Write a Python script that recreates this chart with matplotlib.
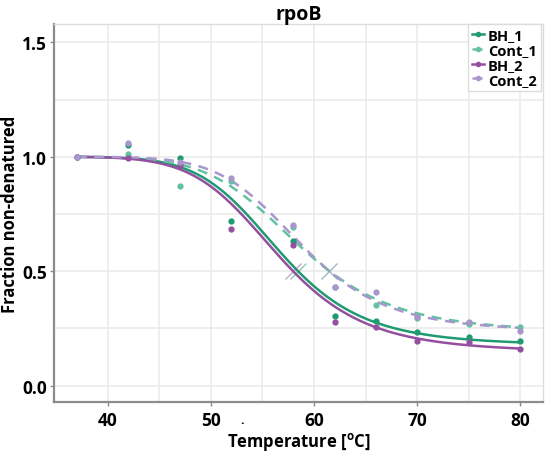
import numpy as np
from matplotlib import pyplot as plt
from matplotlib.lines import Line2D

plt.rcParams['font.family'] = ['Open Sans', 'DejaVu Sans']
plt.rcParams['font.weight'] = 'bold'

# measured temperatures
temps = [37, 42, 47, 52, 58, 62, 66, 70, 75, 80]

# fraction non-denatured
bh_1 = [1.0, 1.052, 0.996, 0.720, 0.632, 0.305, 0.283, 0.235, 0.212, 0.193]
cont_1 = [1.0, 1.011, 0.873, 0.894, 0.692, 0.430, 0.353, 0.295, 0.270, 0.254]
bh_2 = [1.0, 0.995, 0.964, 0.683, 0.613, 0.276, 0.254, 0.193, 0.190, 0.159]
cont_2 = [1.0, 1.062, 0.977, 0.905, 0.701, 0.429, 0.411, 0.298, 0.279, 0.239]

# melting curve fit: Tm, slope a, plateau
fit_tm = [58.45, 61.5, 57.97, 61.5]
fit_a = [790, 740, 750, 830]
fit_plateau = [0.175, 0.23, 0.145, 0.235]

names = ['BH_1', 'Cont_1', 'BH_2', 'Cont_2']
colors = ['#1f9a72', '#62c2a2', '#94509f', '#a996cc']
styles = ['-', (0, (4, 3)), '-', (0, (4, 3))]
series = [bh_1, cont_1, bh_2, cont_2]


def melt(t, tm, a, p):
	f = (0.5 - p) / (1 - p)
	b = a / tm - np.log(f / (1 - f))
	return (1 - p) / (1 + np.exp(-(a / t - b))) + p


fig = plt.figure(figsize=(5.47, 4.6), dpi=100)
ax = fig.add_axes([0.0987, 0.1233, 0.894, 0.8224])

tt = np.linspace(temps[0], temps[-1], 300)
for i in range(4):
	ax.plot(tt, melt(tt, fit_tm[i], fit_a[i], fit_plateau[i]), color=colors[i],
		linestyle=styles[i], linewidth=1.8, zorder=3)
	ax.plot(temps, series[i], 'o', color=colors[i], markersize=3.5, zorder=4)
	ax.plot([fit_tm[i]], [0.5], 'x', color=colors[i], markersize=11,
		markeredgewidth=1.0, alpha=0.5, zorder=5)

ax.set_xlim(34.8, 82.2)
ax.set_ylim(-0.073, 1.58)
ax.set_xticks([40, 50, 60, 70, 80])
ax.set_xticks([45, 55, 65, 75], minor=True)
ax.set_yticks([0.0, 0.5, 1.0, 1.5])
ax.set_yticks([0.25, 0.75, 1.25], minor=True)
ax.set_yticklabels(['0.0', '0.5', '1.0', '1.5'])
ax.grid(True, which='both', color='#ebebeb', linewidth=1.2, zorder=0)
ax.set_axisbelow(True)
ax.tick_params(which='major', length=3, width=1, color='#888888', labelsize=12.5, pad=2)
ax.tick_params(axis='x', pad=3)
ax.tick_params(which='minor', length=0)
for lab in ax.get_xticklabels() + ax.get_yticklabels():
	lab.set_fontweight('bold')

for s in ['left', 'bottom']:
	ax.spines[s].set_color('#8c8c8c')
	ax.spines[s].set_linewidth(1.6)
for s in ['top', 'right']:
	ax.spines[s].set_color('#dcdcdc')
	ax.spines[s].set_linewidth(1.0)

ax.set_title('rpoB', fontsize=14, fontweight='bold', pad=3)
ax.set_xlabel('Temperature [$\\mathregular{^o}$C]', fontsize=12, fontweight='bold', labelpad=1)
ax.set_ylabel('Fraction non-denatured', fontsize=12, fontweight='bold', labelpad=2)

fig.text(242 / 547, 1 - 421 / 460, '.', fontsize=9, ha='center', va='center')

handles = [Line2D([0], [0], color=colors[i], linestyle=styles[i], marker='o',
	markersize=3, linewidth=1.8) for i in range(4)]
leg = fig.legend(handles, names, loc='upper left', bbox_to_anchor=(468 / 547, 1 - 25 / 460),
	frameon=True, fancybox=False, edgecolor='#dcdcdc', framealpha=1,
	handlelength=0.8, handletextpad=0.25, labelspacing=0.05, borderpad=0.3,
	borderaxespad=0, prop={'weight': 'bold', 'size': 10.5})
leg.get_frame().set_linewidth(1.0)

fig.savefig('out.png', dpi=100)
